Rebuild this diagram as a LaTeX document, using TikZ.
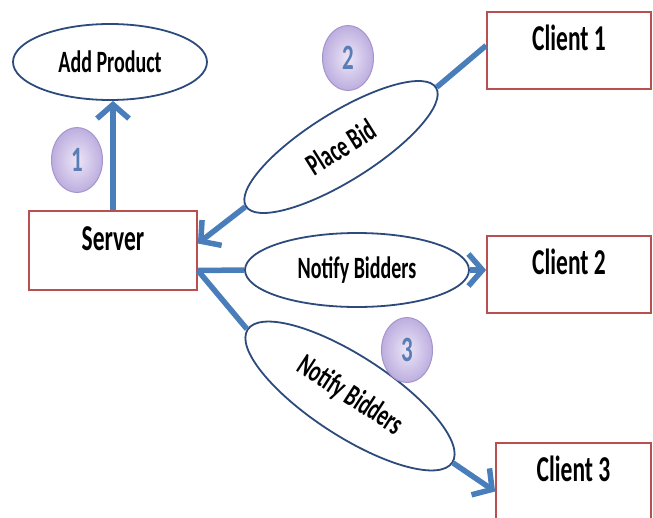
\documentclass[tikz,border=0pt]{standalone}
\usepackage{fontspec}
\setmainfont{Carlito}
\usepackage{graphicx}
\usetikzlibrary{arrows.meta,shapes.geometric}

\definecolor{flowblue}{HTML}{4A7EBB}
\definecolor{ovalblue}{HTML}{2C4A7C}
\definecolor{boxred}{HTML}{B9504F}
\definecolor{lilac}{HTML}{ECE6F7}
\definecolor{lilacdark}{HTML}{BDAEDF}
\definecolor{lilacline}{HTML}{A595CC}
\definecolor{numblue}{HTML}{5A7DB5}

\newcommand{\tallbf}[1]{\scalebox{1}[1.55]{\bfseries #1}}

\tikzset{
  oval/.style={ellipse, draw=ovalblue, line width=1.8pt, inner sep=0pt,
    font=\fontsize{20}{24}\selectfont},
  box/.style={rectangle, draw=boxred, line width=1.8pt, minimum width=164pt,
    minimum height=77pt, text height=20pt, text depth=20pt,
    font=\fontsize{23.5}{26}\selectfont},
  flow/.style={flowblue, line width=5.5pt},
  flowarrow/.style={flow, -{Straight Barb[length=14pt,width=32pt]}},
  numball/.style={ellipse, draw=lilacline, line width=1pt, shading=radial,
    inner color=lilac, outer color=lilacdark, minimum width=51pt,
    minimum height=65pt, text=numblue, font=\fontsize{23}{26}\selectfont}
}

\begin{document}
\begin{tikzpicture}[x=1pt,y=-1pt]
  \path[use as bounding box, fill=white] (0,0) rectangle (653,517);
  % boxes
  \node[box, minimum width=168pt, minimum height=79pt] (server) at (113,250.5) {\tallbf{Server}};
  \node[box] (client1) at (569,50.5) {\tallbf{Client 1}};
  \node[box] (client2) at (569,274.5) {\tallbf{Client 2}};
  \node[box, minimum width=155pt] (client3) at (573.5,481.5) {\tallbf{Client 3}};
  % use cases
  \node[oval, minimum width=194pt, minimum height=76pt] (addprod) at (110,62) {\tallbf{Add Product}};
  \node[oval, rotate=32, minimum width=224pt, minimum height=68pt] (placebid) at (341,147) {\tallbf{Place Bid}};
  \node[oval, minimum width=224pt, minimum height=74pt] (notifya) at (357,270) {\tallbf{Notify Bidders}};
  \node[oval, rotate=-33, minimum width=244pt, minimum height=80pt] (notifyb) at (350,396) {\tallbf{Notify Bidders}};
  % step numbers
  \foreach \n/\x/\y in {1/77/160, 2/348/58, 3/407/350}{% one ball per step
    \node[numball] (num\n) at (\x,\y) {\tallbf{\n}};}
  % connectors
  \draw[flowarrow] (server.north) -- (server.north |- addprod.south);
  \draw[flow] ([yshift=5pt]client1.west) -- (placebid.east);
  \draw[flowarrow] (placebid.west) -- ([yshift=7pt]server.east);
  \coordinate (fork) at ([yshift=-20pt]server.east);
  \draw[flow] (fork) -- (notifya.west);
  \draw[flowarrow] (notifya.east) -- (notifya.east -| client2.west);
  \draw[flow] (fork) -- (notifyb.west);
  \draw[flowarrow] (notifyb.east) -- ([yshift=-10pt]client3.west);
\end{tikzpicture}
\end{document}
